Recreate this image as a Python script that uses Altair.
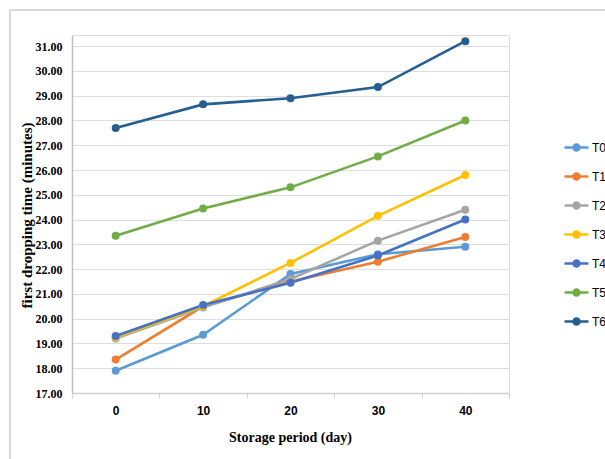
import altair as alt
import pandas as pd

days = ["0", "10", "20", "30", "40"]
series = ["T0", "T1", "T2", "T3", "T4", "T5", "T6"]
T0 = [17.9, 19.35, 21.8, 22.6, 22.9]
T1 = [18.35, 20.5, 21.5, 22.3, 23.3]
T2 = [19.2, 20.45, 21.6, 23.15, 24.4]
T3 = [19.25, 20.5, 22.25, 24.15, 25.8]
T4 = [19.3, 20.55, 21.45, 22.55, 24.0]
T5 = [23.35, 24.45, 25.3, 26.55, 28.0]
T6 = [27.7, 28.65, 28.9, 29.35, 31.2]
colors = ["#5B9BD5", "#ED7D31", "#A5A5A5", "#FFC000", "#4472C4", "#70AD47", "#255E91"]
y_ticks = [17, 18, 19, 20, 21, 22, 23, 24, 25, 26, 27, 28, 29, 30, 31]

values = [T0, T1, T2, T3, T4, T5, T6]
rows = []
for s, vals in zip(series, values):
    for d, v in zip(days, vals):
        rows.append({"day": d, "series": s, "value": v})
df = pd.DataFrame(rows)

legend_path = "M-1,0L1,0M-0.25,0A0.25,0.25,0,1,1,0.25,0A0.25,0.25,0,1,1,-0.25,0Z"

lines = alt.Chart(df).mark_line(
    strokeWidth=2.6,
    point=alt.OverlayMarkDef(filled=True, size=64),
).encode(
    x=alt.X("day:O", sort=days,
            scale=alt.Scale(paddingInner=0, paddingOuter=0),
            axis=alt.Axis(title="Storage period (day)", labelAngle=0,
                          tickBand="extent", tickSize=5, tickColor="#d0d0d0",
                          domainColor="#d0d0d0", domainWidth=1.5,
                          labelFont="Liberation Sans", labelFontWeight="bold",
                          labelFontSize=12, labelColor="#000000", labelPadding=7,
                          titleFont="Liberation Serif", titleFontSize=14,
                          titleFontWeight="bold", titleColor="#000000",
                          titleX=218, titleY=44, titleBaseline="middle",
                          titleAlign="center", grid=False)),
    y=alt.Y("value:Q",
            scale=alt.Scale(domain=[17, 31.45], nice=False, zero=False),
            axis=alt.Axis(title="first dropping time (minutes)", values=y_ticks,
                          format=".2f", ticks=False, domainColor="#c0c0c0",
                          domainWidth=1.5, gridColor="#dedede", gridWidth=1.2,
                          labelFont="Liberation Serif", labelFontWeight="bold",
                          labelFontSize=12, labelColor="#000000", labelPadding=10,
                          titleFont="Liberation Serif", titleFontSize=15,
                          titleFontWeight="bold", titleColor="#000000",
                          titleAngle=270, titleX=-46, titleY=180,
                          titleAlign="center", titleBaseline="middle")),
    color=alt.Color("series:N", sort=series,
                    scale=alt.Scale(domain=series, range=colors),
                    legend=alt.Legend(title=None, orient="none", legendX=491, legendY=99,
                                      symbolType=legend_path, symbolSize=576,
                                      symbolStrokeWidth=2.5, rowPadding=7,
                                      labelFont="Liberation Sans", labelFontSize=12,
                                      labelColor="#000000", labelOffset=2)),
)

border = alt.Chart(df).mark_rule(color="#d9d9d9", strokeWidth=1.5).encode(
    x=alt.value(-62), x2=alt.value(-62), y=alt.value(-25), y2=alt.value(430)
)
border_top = alt.Chart(df).mark_rule(color="#d9d9d9", strokeWidth=1.5).encode(
    x=alt.value(-62), x2=alt.value(540), y=alt.value(-25), y2=alt.value(-25)
)

chart = alt.layer(border, border_top, lines).properties(
    width=437, height=358,
    padding={"left": 72, "top": 35, "right": 96, "bottom": 66},
    autosize=alt.AutoSizeParams(type="none"),
).configure_view(stroke=None).configure(background="#ffffff")

chart.save("out.html", embed_options={"renderer": "svg", "actions": False})
